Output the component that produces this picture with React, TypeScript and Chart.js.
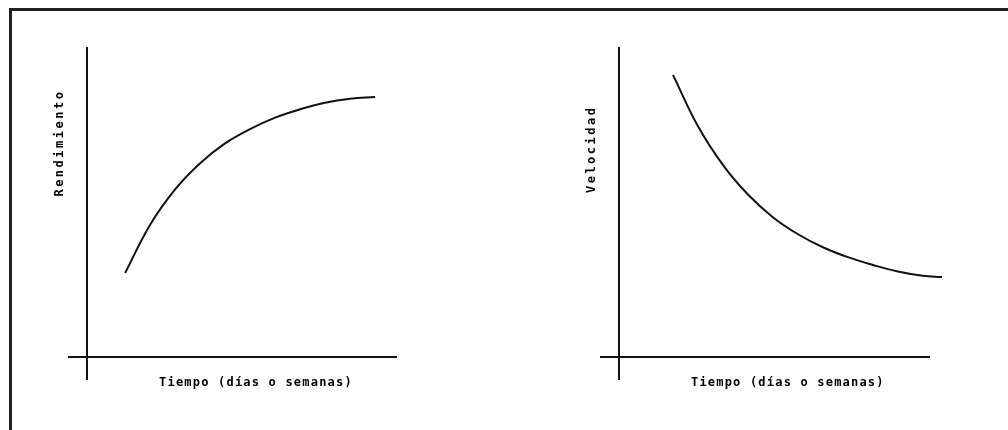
import React, { useEffect, useRef } from "react";
import { Chart, registerables } from "chart.js";
Chart.register(...registerables);

// Left panel: rendimiento vs tiempo
const leftX = [1.27, 2.1, 2.93, 3.77, 4.6, 5.43, 6.27, 7.1, 7.93, 8.77, 9.6];
const leftY = [2.71, 4.26, 5.4, 6.25, 6.89, 7.35, 7.72, 7.99, 8.2, 8.33, 8.39];
// Right panel: velocidad vs tiempo
const rightX = [1.8, 2.63, 3.47, 4.3, 5.13, 5.97, 6.8, 7.63, 8.47, 9.3, 10.13, 10.77];
const rightY = [9.1, 7.45, 6.19, 5.24, 4.51, 3.96, 3.54, 3.22, 2.97, 2.76, 2.62, 2.58];

const xTitle = "Tiempo (días o semanas)";
const leftYTitle = "Rendimiento";
const rightYTitle = "Velocidad";

const crossAxes = {
  id: "crossAxes",
  afterDraw(chart: any, _args: any, opts: any) {
    const { ctx } = chart;
    const xs = chart.scales.x;
    const ys = chart.scales.y;
    ctx.save();
    ctx.strokeStyle = "#111";
    ctx.lineWidth = 2;
    ctx.beginPath();
    ctx.moveTo(xs.getPixelForValue(opts.xFrom), ys.getPixelForValue(0));
    ctx.lineTo(xs.getPixelForValue(opts.xTo), ys.getPixelForValue(0));
    ctx.moveTo(xs.getPixelForValue(0), ys.getPixelForValue(opts.yFrom));
    ctx.lineTo(xs.getPixelForValue(0), ys.getPixelForValue(opts.yTo));
    ctx.stroke();
    ctx.fillStyle = "#000";
    ctx.font = "bold 12px 'DejaVu Sans Mono'";
    ctx.textAlign = "center";
    ctx.textBaseline = "middle";
    (ctx as any).letterSpacing = "1.2px";
    ctx.fillText(opts.xTitle, xs.getPixelForValue(5.63), ys.getPixelForValue(-0.84));
    (ctx as any).letterSpacing = "2.5px";
    ctx.translate(xs.getPixelForValue(-0.9), ys.getPixelForValue(opts.yTitleAt));
    ctx.rotate(-Math.PI / 2);
    ctx.fillText(opts.yTitle, 0, 0);
    ctx.restore();
  },
};

function Panel(props: {
  xs: number[];
  ys: number[];
  xMax: number;
  xTo: number;
  yTitle: string;
  yTitleAt: number;
  padding: any;
  style: React.CSSProperties;
}) {
  const ref = useRef<HTMLCanvasElement>(null);
  useEffect(() => {
    if (!ref.current) return;
    const chart = new Chart(ref.current, {
      type: "line",
      data: {
        datasets: [
          {
            data: props.xs.map((x, i) => ({ x, y: props.ys[i] })),
            borderColor: "#111",
            borderWidth: 2,
            pointRadius: 0,
            fill: false,
            tension: 0.4,
          },
        ],
      },
      options: {
        animation: false,
        responsive: false,
        maintainAspectRatio: false,
        layout: { padding: props.padding },
        scales: {
          x: { type: "linear", min: -0.633, max: props.xMax, display: false },
          y: { type: "linear", min: -0.742, max: 10, display: false },
        },
        plugins: {
          legend: { display: false },
          tooltip: { enabled: false },
          crossAxes: {
            xFrom: -0.633,
            xTo: props.xTo,
            yFrom: -0.742,
            yTo: 10,
            xTitle,
            yTitle: props.yTitle,
            yTitleAt: props.yTitleAt,
          },
        } as any,
      },
      plugins: [crossAxes],
    } as any);
    return () => chart.destroy();
  }, []);
  return <canvas ref={ref} width={props.style.width as number} height={props.style.height as number} style={props.style} />;
}

export default function App() {
  return (
    <div style={{ position: "fixed", left: 0, top: 0, width: 1008, height: 430, background: "#fff", overflow: "hidden" }}>
      <div
        style={{
          position: "absolute",
          left: 9,
          top: 8,
          width: 1020,
          height: 440,
          borderLeft: "3px solid #222",
          borderTop: "3px solid #222",
          boxSizing: "border-box",
        }}
      />
      <Panel
        xs={leftX}
        ys={leftY}
        xMax={10.33}
        xTo={10.33}
        yTitle={leftYTitle}
        yTitleAt={6.9}
        padding={{ left: 28, right: 13, top: 17, bottom: 20 }}
        style={{ position: "absolute", left: 40, top: 30, width: 370, height: 370 }}
      />
      <Panel
        xs={rightX}
        ys={rightY}
        xMax={10.87}
        xTo={10.37}
        yTitle={rightYTitle}
        yTitleAt={6.7}
        padding={{ left: 20, right: 15, top: 17, bottom: 20 }}
        style={{ position: "absolute", left: 580, top: 30, width: 380, height: 370 }}
      />
    </div>
  );
}
